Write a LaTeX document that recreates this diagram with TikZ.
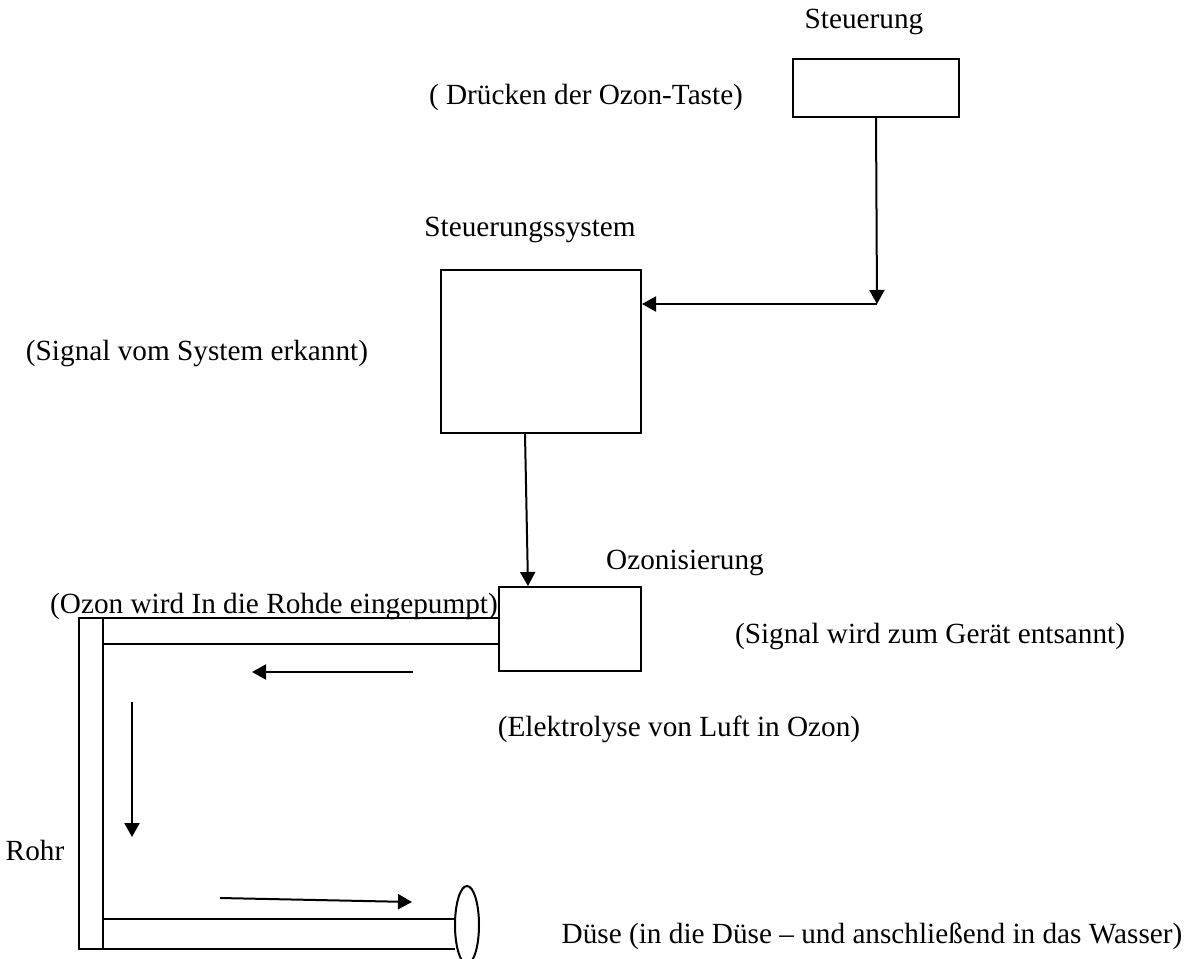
\documentclass[tikz,border=0pt]{standalone}
\usepackage{fontspec}
\setmainfont{Liberation Serif}
\usetikzlibrary{arrows.meta}
\tikzset{
    lbl/.style={font=\fontsize{11.7}{14}\selectfont, inner sep=0pt, anchor=base},
    box/.style={draw, line width=0.8pt, inner sep=0pt},
    arr/.style={line width=0.8pt, -{Triangle[length=5.6pt, width=6pt]}},
    pipe/.style={line width=0.8pt}
}
\begin{document}
\begin{tikzpicture}[x=0.4pt, y=-0.4pt]
    \useasboundingbox (0,0) rectangle (1199,959);
    % boxes
    \node[box, minimum width=66.4pt, minimum height=23.2pt] (ctrl) at (876,88) {};
    \node[box, minimum width=80pt, minimum height=65.2pt] (sys) at (541,351.5) {};
    \node[box, minimum width=56.8pt, minimum height=33.6pt] (ozon) at (570,629) {};
    % signal path
    \coordinate (bend) at (877,304);
    \draw[arr] (ctrl.south) -- (bend);
    \draw[arr] (bend) -- (bend -| sys.east);
    \draw[arr] ([xshift=-6.4pt]sys.south) -- ([xshift=-16.8pt]ozon.north);
    % pipe
    \draw[pipe] (79,618) rectangle (103,949);
    \draw[pipe] (79,618) -- (79,618 -| ozon.west);
    \draw[pipe] (103,644) -- (103,644 -| ozon.west);
    \draw[pipe] (103,919) -- (455,919);
    \draw[pipe] (79,949) -- (455,949);
    \draw[pipe] (467,925) ellipse [x radius=12, y radius=39];
    % flow
    \coordinate (f1) at (413,672);
    \coordinate (f2) at (252,672);
    \coordinate (f3) at (132,702);
    \coordinate (f4) at (132,837);
    \coordinate (f5) at (220,898);
    \coordinate (f6) at (412,902);
    \draw[arr] (f1) -- (f2);
    \draw[arr] (f3) -- (f4);
    \draw[arr] (f5) -- (f6);
    % labels
    \node[lbl] (tctrl) at (864,29) {Steuerung};
    \node[lbl] (ttaste) at (586,105) {( Drücken der Ozon-Taste)};
    \node[lbl] (tsys) at (530,236) {Steuerungssystem};
    \node[lbl] (terkannt) at (197,360) {(Signal vom System erkannt)};
    \node[lbl] (tozon) at (685,569) {Ozonisierung};
    \node[lbl] (tpumpe) at (274,613) {(Ozon wird In die Rohde eingepumpt)};
    \node[lbl] (tgeraet) at (930,643) {(Signal wird zum Gerät entsannt)};
    \node[lbl] (telektro) at (679,736) {(Elektrolyse von Luft in Ozon)};
    \node[lbl] (trohr) at (35,860) {Rohr};
    \node[lbl] (tduese) at (872,943) {Düse (in die Düse – und anschließend in das Wasser)};
\end{tikzpicture}
\end{document}
